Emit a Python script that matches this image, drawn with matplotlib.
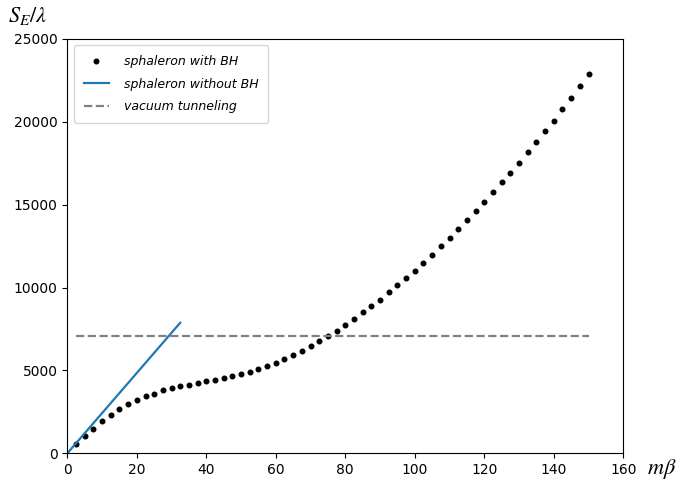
import matplotlib
matplotlib.use('Agg')
import matplotlib.pyplot as plt

# sphaleron with BH
mb_bh = [2.5 * (i + 1) for i in range(60)]
se_bh = [540, 1040, 1490, 1950, 2290, 2650, 2950, 3190, 3430, 3590,
         3790, 3940, 4060, 4140, 4240, 4340, 4440, 4520, 4640, 4780,
         4920, 5060, 5260, 5460, 5680, 5940, 6150, 6470, 6750, 7090,
         7410, 7770, 8110, 8510, 8860, 9240, 9740, 10140, 10600, 11020,
         11490, 11970, 12510, 12970, 13510, 14060, 14600, 15140, 15740, 16370,
         16910, 17510, 18190, 18800, 19460, 20080, 20760, 21450, 22190, 22870]

# sphaleron without BH
mb_nobh = [0, 32.5]
se_nobh = [0, 7880]

# vacuum tunneling
mb_vac = [2.5, 150]
se_vac = [7100, 7100]

plt.rcParams['mathtext.fontset'] = 'stix'

fig = plt.figure(figsize=(6.78, 4.8), dpi=100)
ax = fig.add_axes([0.0993, 0.0556, 0.82, 0.8632])

ax.plot(mb_bh, se_bh, 'o', color='black', markersize=3.3, label='sphaleron with BH')
ax.plot(mb_nobh, se_nobh, '-', color='#1f77b4', linewidth=1.6, label='sphaleron without BH')
ax.plot(mb_vac, se_vac, '--', color='gray', linewidth=1.6, label='vacuum tunneling')

ax.set_xlim(0, 160)
ax.set_ylim(0, 25000)
ax.tick_params(labelsize=10)

leg = ax.legend(loc='upper left', prop={'style': 'italic', 'size': 9},
                labelspacing=0.75, borderpad=0.8, handletextpad=1.2)

fig.text(0.012, 0.966, r'$S_E/\lambda$', fontsize=16, ha='left', va='center')
fig.text(0.955, 0.022, r'$m\beta$', fontsize=16, ha='left', va='center')

fig.savefig('out.png', dpi=100)
